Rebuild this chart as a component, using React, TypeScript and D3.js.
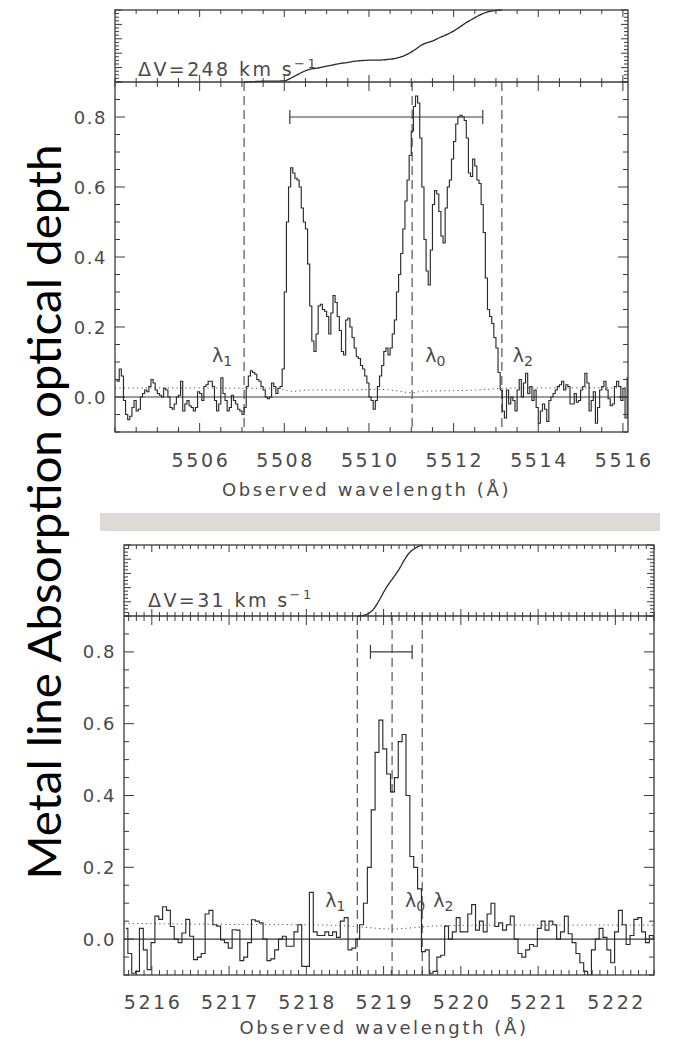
import React from "react";
import * as d3 from "d3";

// ---------------- upper absorber (5504–5516 Å) ----------------
const upperStart = 5504.025; // centre of first pixel, Å
const upperStep = 0.05;
const upperTau = [
  0.05, 0.045, 0.08, 0.06, -0.01, -0.05, -0.065, -0.055, -0.03, -0.01,
  -0.04, -0.035, 0.0, 0.01, 0.02, 0.015, 0.03, 0.05, 0.04, 0.02,
  0.01, 0.005, 0.0, 0.025, 0.02, 0.0, -0.03, -0.035, -0.02, 0.0,
  0.005, 0.045, -0.04, -0.02, -0.01, -0.025, -0.03, -0.04, -0.03, 0.015,
  0.01, -0.01, 0.03, 0.035, 0.045, 0.045, 0.03, -0.01, -0.04, -0.02,
  0.055, 0.01, -0.01, -0.04, -0.03, 0.005, -0.01, -0.02, -0.035, -0.04,
  -0.05, -0.03, 0.03, 0.06, 0.075, 0.07, 0.065, 0.05, 0.045, 0.03,
  0.02, 0.0, -0.005, 0.0, 0.04, 0.03, 0.01, 0.025, 0.03, 0.08,
  0.3, 0.5, 0.6, 0.655, 0.64, 0.625, 0.62, 0.6, 0.54, 0.5,
  0.48, 0.38, 0.26, 0.16, 0.13, 0.18, 0.26, 0.265, 0.25, 0.245,
  0.23, 0.18, 0.24, 0.29, 0.27, 0.23, 0.19, 0.13, 0.12, 0.22,
  0.225, 0.2, 0.17, 0.14, 0.115, 0.11, 0.09, 0.08, 0.06, 0.04,
  0.0, -0.01, -0.035, -0.01, 0.03, 0.06, 0.09, 0.13, 0.14, 0.12,
  0.14, 0.18, 0.22, 0.3, 0.35, 0.41, 0.48, 0.56, 0.62, 0.69,
  0.76, 0.83, 0.86, 0.84, 0.74, 0.6, 0.45, 0.36, 0.32, 0.42,
  0.55, 0.59, 0.58, 0.53, 0.46, 0.44, 0.54, 0.6, 0.62, 0.68,
  0.73, 0.78, 0.8, 0.805, 0.8, 0.79, 0.74, 0.64, 0.63, 0.68,
  0.66, 0.62, 0.61, 0.55, 0.47, 0.34, 0.25, 0.23, 0.21, 0.17,
  0.14, 0.07, 0.02, -0.04, -0.06, 0.02, -0.02, 0.0, -0.01, -0.04,
  0.02, 0.05, 0.0, 0.04, 0.068, 0.01, 0.03, -0.01, 0.02, -0.03,
  -0.075, -0.04, -0.02, -0.035, -0.07, -0.01, 0.0, 0.01, 0.02, 0.03,
  0.035, 0.045, 0.02, 0.035, 0.03, -0.02, -0.02, 0.01, -0.015, -0.01,
  0.02, 0.03, 0.068, 0.04, -0.04, -0.01, 0.015, -0.075, -0.03, 0.02,
  0.03, 0.045, 0.02, -0.005, -0.025, -0.02, 0.03, 0.045, 0.03, -0.01,
  0.025, -0.06, 0.055,
];
const upperErrWave = [5504, 5505, 5506, 5507, 5507.8, 5508.2, 5508.6, 5509.5, 5510.2, 5510.7, 5511.0, 5511.3, 5512, 5512.6, 5513.2, 5514, 5515, 5516.12];
const upperErrTau = [0.026, 0.026, 0.026, 0.025, 0.025, 0.016, 0.02, 0.02, 0.022, 0.017, 0.012, 0.017, 0.018, 0.02, 0.025, 0.026, 0.026, 0.026];
const upperLambda = [5507.05, 5511.02, 5513.14]; // λ1, λ0, λ2
const upperBarStart = 5508.13;
const upperDeltaV = 248; // km/s
const upperXTicks = [5506, 5508, 5510, 5512, 5514, 5516];

// ---------------- lower absorber (5215.6–5222.5 Å) ----------------
const lowerStart = 5215.665;
const lowerStep = 0.05;
const lowerTau = [
  0.03, -0.04, -0.095, -0.09, 0.03, -0.03, -0.085, -0.01, 0.064, 0.055,
  0.09, 0.08, 0.035, 0.0, -0.01, 0.017, 0.055, 0.008, -0.057, -0.05,
  -0.04, 0.07, 0.08, 0.04, 0.036, -0.002, -0.01, -0.025, 0.026, 0.025,
  -0.06, -0.05, -0.01, 0.054, 0.05, 0.045, 0.0, -0.06, -0.055, -0.03,
  0.0, 0.008, -0.02, -0.02, 0.02, 0.04, -0.076, -0.076, 0.13, 0.02,
  0.01, 0.01, 0.02, 0.01, 0.02, 0.005, 0.05, 0.06, -0.03, -0.025,
  0.0, 0.04, 0.1, 0.2, 0.36, 0.52, 0.61, 0.53, 0.46, 0.41,
  0.45, 0.55, 0.57, 0.4, 0.23, 0.2, 0.14, -0.035, -0.03, -0.095,
  -0.09, -0.05, -0.045, 0.036, 0.0, 0.02, 0.06, 0.02, 0.02, 0.07,
  0.096, 0.025, 0.05, 0.02, 0.07, 0.1, 0.035, 0.045, 0.025, 0.04,
  0.064, 0.0, -0.04, -0.05, -0.03, -0.015, -0.02, 0.03, 0.05, 0.025,
  0.05, 0.04, 0.0, 0.02, 0.064, 0.015, -0.01, -0.04, -0.066, -0.09,
  -0.1, -0.03, 0.0, 0.03, 0.005, -0.03, -0.066, 0.02, 0.08, 0.04,
  -0.015, 0.01, 0.055, 0.06, 0.02, -0.01, 0.01, 0.0,
];
const lowerErrWave = [5215.64, 5216, 5217, 5218, 5218.5, 5218.8, 5219.1, 5219.4, 5219.7, 5220.5, 5221.5, 5222.5];
const lowerErrTau = [0.044, 0.043, 0.041, 0.04, 0.037, 0.032, 0.028, 0.032, 0.037, 0.039, 0.039, 0.039];
const lowerLambda = [5218.66, 5219.11, 5219.5];
const lowerBarStart = 5218.83;
const lowerDeltaV = 31;
const lowerXTicks = [5216, 5217, 5218, 5219, 5220, 5221, 5222];

const yTickValues = [0, 0.2, 0.4, 0.6, 0.8];
const LIGHT_SPEED = 299792.458;

const INK = "#3a3a3a";
const TXT = "#4a4a4a";
const FONT = "DejaVu Sans";

type PanelProps = {
  id: string;
  tau: number[];
  start: number;
  step: number;
  errWave: number[];
  errTau: number[];
  lambdas: number[];
  barStart: number;
  deltaV: number;
  xDomain: [number, number];
  xTicks: number[];
  minorStep: number;
  box: { x0: number; x1: number; yTop: number; yMid: number; yBot: number };
  tickLabelY: number;
  titleY: number;
  dvPos: [number, number];
  labelTau: number;
};

function stepsBetween(a: number, b: number, s: number) {
  const out: number[] = [];
  const i0 = Math.ceil(a / s - 1e-6);
  const i1 = Math.floor(b / s + 1e-6);
  for (let i = i0; i <= i1; i++) out.push(+(i * s).toFixed(6));
  return out;
}

function Panel(p: PanelProps) {
  const { x0, x1, yTop, yMid, yBot } = p.box;
  const x = d3.scaleLinear().domain(p.xDomain).range([x0, x1]);
  const y = d3.scaleLinear().domain([-0.1, 0.9]).range([yBot, yMid]);
  const yc = d3.scaleLinear().domain([0, 1]).range([yMid, yTop]);

  const pts: [number, number][] = p.tau.map((t, i) => [p.start + i * p.step, t]);
  const spec = d3
    .line<[number, number]>()
    .x((d) => x(d[0]))
    .y((d) => y(d[1]))
    .curve(d3.curveStep)(pts);

  const errPts: [number, number][] = p.errWave.map((w, i) => [w, p.errTau[i]]);
  const err = d3
    .line<[number, number]>()
    .x((d) => x(d[0]))
    .y((d) => y(d[1]))
    .curve(d3.curveMonotoneX)(errPts);

  const [l1, l0, l2] = p.lambdas;
  // cumulative apparent optical depth between λ1 and λ2
  const inside = pts.filter((d) => d[0] >= l1 && d[0] <= l2);
  const pos = inside.map((d) => Math.max(0, d[1]));
  const total = d3.sum(pos);
  const run = Array.from(d3.cumsum(pos));
  const cumPts: [number, number][] = [
    [l1, 0],
    ...inside.map((d, k) => [d[0], (run[k] - pos[k] / 2) / total] as [number, number]),
    [l2, 1],
  ];
  const cum = d3
    .line<[number, number]>()
    .x((d) => x(d[0]))
    .y((d) => yc(d[1]))
    .curve(d3.curveMonotoneX)(cumPts);

  const barEnd = p.barStart + (p.deltaV / LIGHT_SPEED) * l0;

  const minorX = stepsBetween(p.xDomain[0], p.xDomain[1], p.minorStep);
  const minorY = stepsBetween(-0.1, 0.9, 0.05);
  const minorYc = stepsBetween(0, 1, 0.05);
  const majorYc = stepsBetween(0, 1, 0.2);

  const isMajorX = (v: number) => p.xTicks.some((t) => Math.abs(t - v) < 1e-6);
  const isMajorY = (v: number) => yTickValues.some((t) => Math.abs(t - v) < 1e-6);

  const tickLines: JSX.Element[] = [];
  minorX.forEach((v, i) => {
    const X = x(v);
    const L = isMajorX(v) ? 9 : 5;
    const lc = isMajorX(v) ? 7 : 4;
    tickLines.push(<line key={`xb${i}`} x1={X} x2={X} y1={yBot} y2={yBot - L} />);
    tickLines.push(<line key={`xt${i}`} x1={X} x2={X} y1={yMid} y2={yMid + L} />);
    tickLines.push(<line key={`xc${i}`} x1={X} x2={X} y1={yMid} y2={yMid - lc} />);
    tickLines.push(<line key={`xu${i}`} x1={X} x2={X} y1={yTop} y2={yTop + lc} />);
  });
  minorY.forEach((v, i) => {
    const Y = y(v);
    const L = isMajorY(v) ? 10 : 5;
    tickLines.push(<line key={`yl${i}`} x1={x0} x2={x0 + L} y1={Y} y2={Y} />);
    tickLines.push(<line key={`yr${i}`} x1={x1} x2={x1 - L} y1={Y} y2={Y} />);
  });
  minorYc.forEach((v, i) => {
    const Y = yc(v);
    const L = majorYc.some((m) => Math.abs(m - v) < 1e-6) ? 7 : 4;
    tickLines.push(<line key={`cl${i}`} x1={x0} x2={x0 + L} y1={Y} y2={Y} />);
    tickLines.push(<line key={`cr${i}`} x1={x1} x2={x1 - L} y1={Y} y2={Y} />);
  });

  const labY = y(p.labelTau);

  return (
    <g>
      <defs>
        <clipPath id={`clip-${p.id}`}>
          <rect x={x0} y={yMid} width={x1 - x0} height={yBot - yMid} />
        </clipPath>
      </defs>

      {/* zero level */}
      <line x1={x0} x2={x1} y1={y(0)} y2={y(0)} stroke={INK} strokeWidth={1.1} />

      {/* error spectrum */}
      <path d={err ?? ""} fill="none" stroke="#555" strokeWidth={1} strokeDasharray="1.2,3.2" />

      {/* λ1, λ0, λ2 */}
      {p.lambdas.map((w, i) => (
        <line key={i} x1={x(w)} x2={x(w)} y1={yMid} y2={yBot} stroke="#555" strokeWidth={1.2} strokeDasharray="9,5" />
      ))}

      {/* optical depth */}
      <path d={spec ?? ""} fill="none" stroke="#2a2a2a" strokeWidth={1.15} clipPath={`url(#clip-${p.id})`} />

      {/* velocity-width bar */}
      <g stroke={INK} strokeWidth={1.2}>
        <line x1={x(p.barStart)} x2={x(barEnd)} y1={y(0.8)} y2={y(0.8)} />
        <line x1={x(p.barStart)} x2={x(p.barStart)} y1={y(0.8) - 7} y2={y(0.8) + 7} />
        <line x1={x(barEnd)} x2={x(barEnd)} y1={y(0.8) - 7} y2={y(0.8) + 7} />
      </g>

      {/* cumulative profile */}
      <path d={cum ?? ""} fill="none" stroke="#2a2a2a" strokeWidth={1.3} />

      {/* frames and ticks */}
      <g stroke={INK} strokeWidth={1}>{tickLines}</g>
      <rect x={x0} y={yTop} width={x1 - x0} height={yBot - yTop} fill="none" stroke={INK} strokeWidth={1.3} />
      <line x1={x0} x2={x1} y1={yMid} y2={yMid} stroke={INK} strokeWidth={1.6} />

      {/* λ labels */}
      <g fill={TXT} fontFamily={FONT} fontSize={19}>
        <text x={x(l1) - 12} y={labY} textAnchor="end">
          λ<tspan fontSize={14} dy={4}>1</tspan>
        </text>
        <text x={x(l0) + 13} y={labY}>
          λ<tspan fontSize={14} dy={4}>0</tspan>
        </text>
        <text x={x(l2) + 11} y={labY}>
          λ<tspan fontSize={14} dy={4}>2</tspan>
        </text>
      </g>

      {/* ΔV annotation */}
      <text x={p.dvPos[0]} y={p.dvPos[1]} fill={TXT} fontFamily={FONT} fontSize={19} letterSpacing={2.4}>
        ΔV={p.deltaV} km s<tspan fontSize={13} dy={-8}>−1</tspan>
      </text>

      {/* y tick labels */}
      <g fill={TXT} fontFamily={FONT} fontSize={18} letterSpacing={1.5} textAnchor="end">
        {yTickValues.map((v) => (
          <text key={v} x={x0 - 8} y={y(v) + 6.5}>
            {v.toFixed(1)}
          </text>
        ))}
      </g>

      {/* x tick labels and title */}
      <g fill={TXT} fontFamily={FONT} textAnchor="middle">
        {p.xTicks.map((v) => (
          <text key={v} x={x(v) + 1.3} y={p.tickLabelY} fontSize={19} letterSpacing={2.6}>
            {v}
          </text>
        ))}
        <text x={(x0 + x1) / 2 - 5} y={p.titleY} fontSize={18} letterSpacing={2.6}>
          Observed wavelength (Å)
        </text>
      </g>
    </g>
  );
}

export default function App() {
  return (
    <svg
      width={675}
      height={1052}
      viewBox="0 0 675 1052"
      style={{ position: "absolute", left: 0, top: 0, background: "#fff" }}
    >
      <rect width={675} height={1052} fill="#fff" />
      <Panel
        id="upper"
        tau={upperTau}
        start={upperStart}
        step={upperStep}
        errWave={upperErrWave}
        errTau={upperErrTau}
        lambdas={upperLambda}
        barStart={upperBarStart}
        deltaV={upperDeltaV}
        xDomain={[5504, 5516.12]}
        xTicks={upperXTicks}
        minorStep={0.5}
        box={{ x0: 115, x1: 628, yTop: 10, yMid: 82, yBot: 432 }}
        tickLabelY={467}
        titleY={496}
        dvPos={[138, 76]}
        labelTau={0.1}
      />

      {/* separator strip */}
      <rect x={100} y={513} width={560} height={18} fill="#dedbd6" />

      <Panel
        id="lower"
        tau={lowerTau}
        start={lowerStart}
        step={lowerStep}
        errWave={lowerErrWave}
        errTau={lowerErrTau}
        lambdas={lowerLambda}
        barStart={lowerBarStart}
        deltaV={lowerDeltaV}
        xDomain={[5215.64, 5222.5]}
        xTicks={lowerXTicks}
        minorStep={0.1}
        box={{ x0: 124, x1: 654, yTop: 545, yMid: 616, yBot: 975 }}
        tickLabelY={1009}
        titleY={1034}
        dvPos={[148, 607]}
        labelTau={0.09}
      />

      <text
        transform="translate(61,512) rotate(-90)"
        textAnchor="middle"
        fontFamily="Lato"
        fontSize={46}
        textLength={735}
        lengthAdjust="spacingAndGlyphs"
        fill="#000"
      >
        Metal line Absorption optical depth
      </text>
    </svg>
  );
}
